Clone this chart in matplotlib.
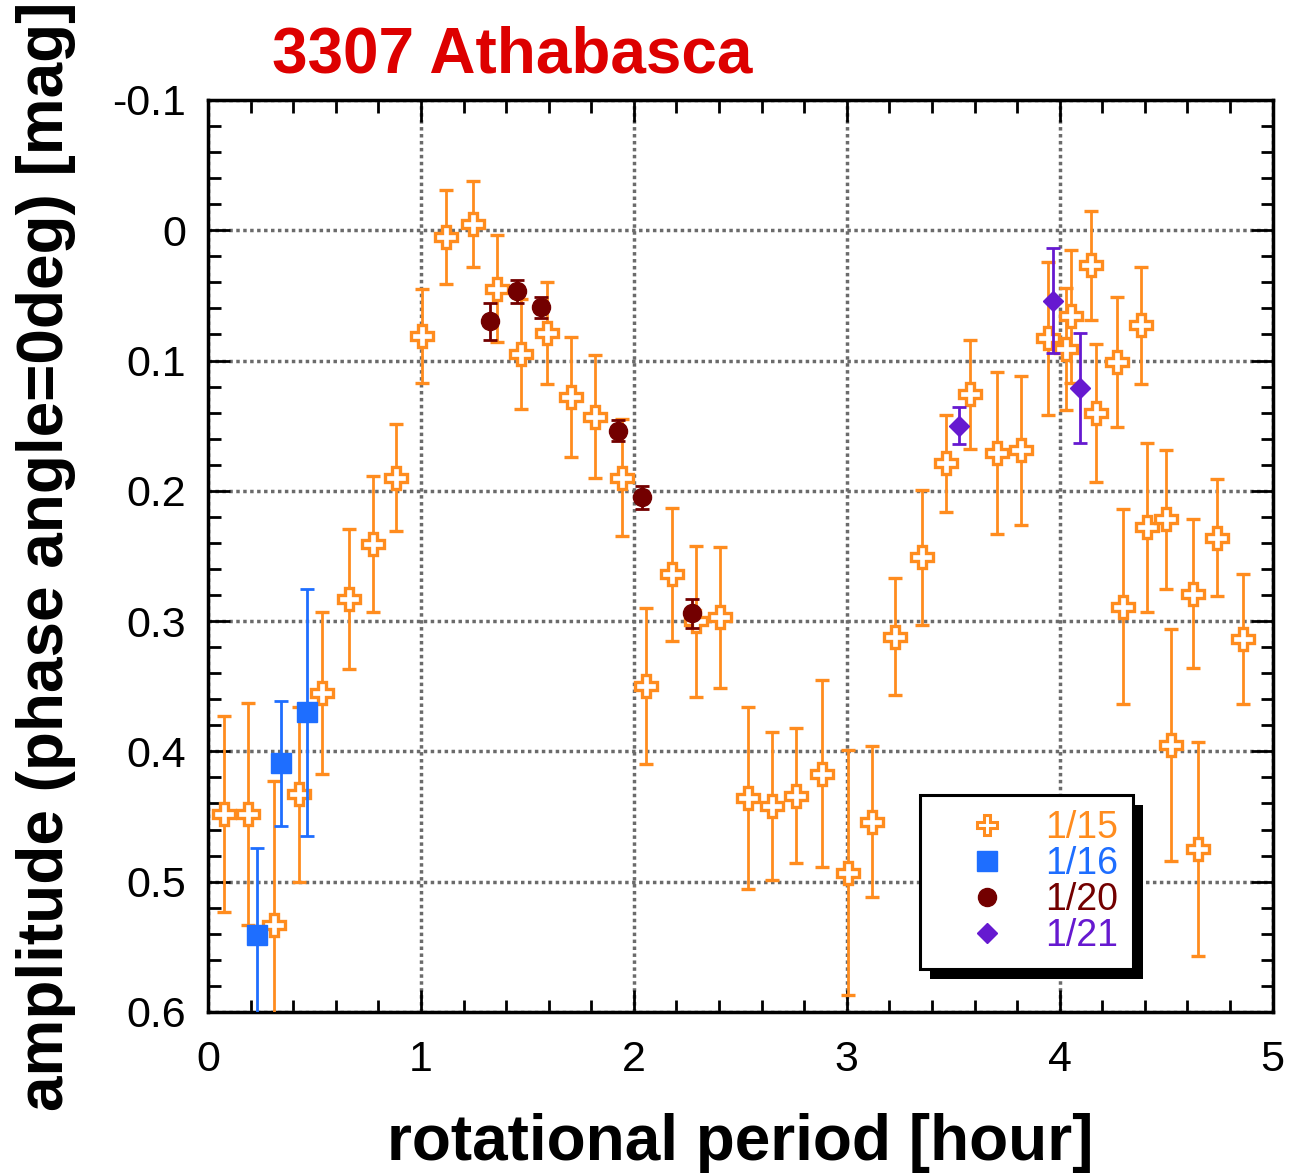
import numpy as np
import matplotlib
matplotlib.use('Agg')
from matplotlib import pyplot as plt
from matplotlib.patches import Rectangle
from matplotlib.ticker import MultipleLocator

plt.rcParams['font.family'] = ['Liberation Sans', 'DejaVu Sans']

# 1/15 (open cross)
x15 = [0.075, 0.188, 0.311, 0.425, 0.537, 0.661, 0.773, 0.885,
       1.006, 1.119, 1.243, 1.356, 1.468, 1.593, 1.705, 1.817, 1.942, 2.055,
       2.179, 2.292, 2.404, 2.537, 2.649, 2.760, 2.885, 3.008, 3.120, 3.225,
       3.351, 3.465, 3.578, 3.704, 3.817, 3.943, 4.030, 4.055, 4.145, 4.170,
       4.271, 4.296, 4.384, 4.409, 4.498, 4.523, 4.624, 4.649, 4.737, 4.863]
y15 = [0.448, 0.448, 0.533, 0.433, 0.355, 0.283, 0.241, 0.190,
       0.081, 0.005, -0.005, 0.045, 0.095, 0.079, 0.128, 0.143, 0.190, 0.350,
       0.264, 0.300, 0.297, 0.436, 0.442, 0.434, 0.417, 0.493, 0.454, 0.312,
       0.251, 0.179, 0.126, 0.171, 0.169, 0.083, 0.091, 0.066, 0.027, 0.140,
       0.101, 0.289, 0.073, 0.228, 0.222, 0.395, 0.279, 0.475, 0.236, 0.314]
e15 = [0.075, 0.085, 0.11, 0.067, 0.062, 0.054, 0.052, 0.041,
       0.036, 0.036, 0.033, 0.041, 0.042, 0.039, 0.046, 0.047, 0.045, 0.06,
       0.051, 0.058, 0.054, 0.07, 0.057, 0.052, 0.072, 0.094, 0.058, 0.045,
       0.052, 0.037, 0.042, 0.062, 0.057, 0.059, 0.047, 0.051, 0.042, 0.053,
       0.05, 0.075, 0.045, 0.065, 0.053, 0.089, 0.057, 0.082, 0.045, 0.05]

# 1/16 (square)
x16 = [0.230, 0.341, 0.463]
y16 = [0.541, 0.409, 0.370]
e16 = [0.067, 0.048, 0.095]

# 1/20 (circle)
x20 = [1.324, 1.449, 1.562, 1.924, 2.036, 2.273]
y20 = [0.070, 0.047, 0.059, 0.154, 0.205, 0.294]
e20 = [0.014, 0.009, 0.008, 0.008, 0.009, 0.011]

# 1/21 (diamond)
x21 = [3.528, 3.969, 4.094]
y21 = [0.150, 0.054, 0.121]
e21 = [0.014, 0.040, 0.042]

labels = ['1/15', '1/16', '1/20', '1/21']
colors = ['#FF8C1E', '#1E6EFF', '#730000', '#6619D0']
yticklabels = ['-0.1', '0', '0.1', '0.2', '0.3', '0.4', '0.5', '0.6']

fig = plt.figure(figsize=(12.92, 11.76), dpi=100)
ax = fig.add_axes([0.161, 0.1395, 0.824, 0.7755])

ax.errorbar(x15, y15, yerr=e15, fmt='P', ms=16, mfc='white', mec=colors[0], mew=2.4,
            ecolor=colors[0], elinewidth=2, capsize=5, capthick=2, zorder=3)
ax.errorbar(x16, y16, yerr=e16, fmt='s', ms=14, color=colors[1],
            elinewidth=2, capsize=5, capthick=2, zorder=4)
ax.errorbar(x20, y20, yerr=e20, fmt='o', ms=13, color=colors[2],
            elinewidth=2, capsize=5, capthick=2, zorder=5)
ax.errorbar(x21, y21, yerr=e21, fmt='D', ms=10, color=colors[3],
            elinewidth=2, capsize=5, capthick=2, zorder=6)

ax.set_xlim(0, 5)
ax.set_ylim(0.6, -0.1)
ax.xaxis.set_major_locator(MultipleLocator(1))
ax.xaxis.set_minor_locator(MultipleLocator(0.2))
ax.set_yticks(np.arange(-0.1, 0.61, 0.1))
ax.set_yticklabels(yticklabels)
ax.yaxis.set_minor_locator(MultipleLocator(0.02))
ax.tick_params(which='both', direction='in', top=True, right=True, width=2, labelsize=31)
ax.tick_params(axis='x', pad=20)
ax.tick_params(axis='y', pad=16)
ax.tick_params(which='major', length=16)
ax.tick_params(which='minor', length=9)
for s in ax.spines.values():
    s.set_linewidth(2.5)
ax.grid(True, which='major', color='0.42', linestyle=(0, (1, 1)), linewidth=2.5, zorder=0)
ax.set_axisbelow(True)

ax.set_xlabel('rotational period [hour]', fontsize=46, fontweight='bold', labelpad=24)
ax.set_ylabel('amplitude (phase angle=0deg) [mag]', fontsize=46, fontweight='bold', labelpad=26)
fig.text(0.2105, 0.938, '3307 Athabasca', fontsize=46, fontweight='bold', color='#DD0000',
         ha='left', va='baseline')

handles = []
for m, c, ms in zip(['P', 's', 'o', 'D'], colors, [15, 14, 13, 10]):
    if m == 'P':
        h, = ax.plot([], [], m, ms=ms, mfc='white', mec=c, mew=2.2)
    else:
        h, = ax.plot([], [], m, ms=ms, color=c)
    handles.append(h)
leg = ax.legend(handles, labels, loc='upper left', bbox_to_anchor=(0.6685, 0.2379),
                fontsize=27, labelcolor=colors, fancybox=False, framealpha=1,
                edgecolor='black', handletextpad=0.15, borderpad=0.4, labelspacing=0.0,
                handlelength=2.8, borderaxespad=0)
leg.get_frame().set_linewidth(2.2)
leg.set_zorder(10)

fig.canvas.draw()
bb = leg.get_window_extent().transformed(fig.transFigure.inverted())
dx, dy = 10 / 1292, 10 / 1176
ax.add_patch(Rectangle((bb.x0 + dx, bb.y0 - dy), bb.width, bb.height,
                       transform=fig.transFigure, facecolor='black',
                       edgecolor='none', zorder=9, clip_on=False))

fig.savefig('out.png', dpi=100)
